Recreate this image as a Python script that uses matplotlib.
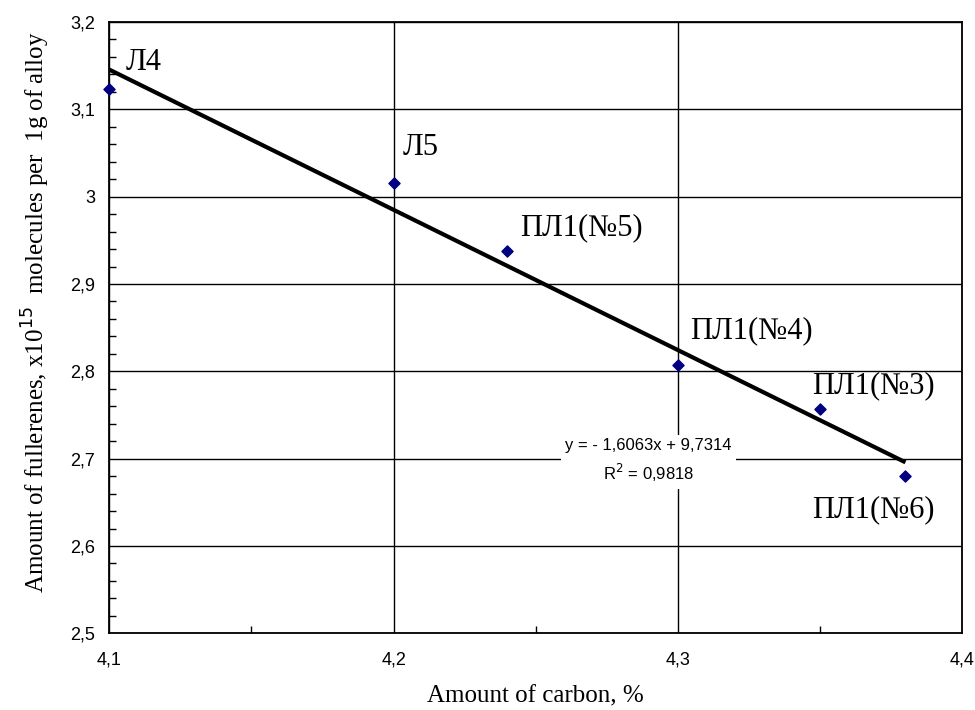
import numpy as np
import matplotlib.pyplot as plt
from matplotlib.ticker import MultipleLocator, FuncFormatter

carbon = [4.10, 4.20, 4.24, 4.30, 4.35, 4.38]
fullerenes = [3.123, 3.016, 2.938, 2.807, 2.757, 2.680]
names = ["Л4", "Л5", "ПЛ1(№5)", "ПЛ1(№4)", "ПЛ1(№3)", "ПЛ1(№6)"]
slope, intercept, r2 = -1.6063, 9.7314, 0.9818

# label offsets in points relative to each marker
offsets = [(11.5, 19), (6.5, 25), (9.4, 16.6), (8.6, 25), (-5.8, 17), (-67, -24.5)]

fig = plt.figure(figsize=(9.75, 7.1), dpi=100)
ax = fig.add_axes([0.112, 0.108, 0.875, 0.861])

ax.grid(True, which='major', color='black', linewidth=1.0)
ax.set_axisbelow(True)

xs = np.array([carbon[0], carbon[-1]])
ax.plot(xs, slope * xs + intercept, color='black', linewidth=3, solid_capstyle='butt', zorder=3)
ax.scatter(carbon, fullerenes, marker='D', s=32, color='#000080', zorder=4, clip_on=False)

for xv, yv, nm, off in zip(carbon, fullerenes, names, offsets):
    ax.annotate(nm, (xv, yv), xytext=off, textcoords='offset points',
                family='Liberation Serif', fontsize=22, ha='left', va='center', zorder=5)

eq = "y = - %sx + %s\nR$^2$ = %s" % (str(-slope).replace(".", ","),
                                     str(intercept).replace(".", ","),
                                     str(r2).replace(".", ","))
ax.text(4.2896, 2.697, eq,
        family='Liberation Sans', fontsize=12, ha='center', va='center', linespacing=1.5,
        bbox=dict(facecolor='white', edgecolor='none', pad=3), zorder=2.5)

ax.set_xlim(4.1, 4.4)
ax.set_ylim(2.5, 3.2)
ax.xaxis.set_major_locator(MultipleLocator(0.1))
ax.xaxis.set_minor_locator(MultipleLocator(0.05))
ax.yaxis.set_major_locator(MultipleLocator(0.1))
ax.yaxis.set_minor_locator(MultipleLocator(0.02))
fmt = FuncFormatter(lambda v, p: ("%g" % round(v, 2)).replace(".", ","))
ax.xaxis.set_major_formatter(fmt)
ax.yaxis.set_major_formatter(fmt)
ax.tick_params(which='both', direction='in', length=5, width=1, top=False, right=False)
ax.tick_params(which='major', length=0, labelsize=13)
ax.tick_params(axis='x', which='major', pad=13)
ax.tick_params(axis='y', which='major', pad=10)
for lbl in ax.get_xticklabels() + ax.get_yticklabels():
    lbl.set_family('Liberation Sans')
for s in ax.spines.values():
    s.set_linewidth(1.3)

ax.set_xlabel("Amount of carbon, %", family='Liberation Serif', fontsize=18, labelpad=12)
ax.set_ylabel("Amount of fullerenes, x10$^{15}$  molecules per  1g of alloy",
              family='Liberation Serif', fontsize=18)
ax.yaxis.set_label_coords(-0.067, 0.525)

fig.savefig("out.png", dpi=100)
